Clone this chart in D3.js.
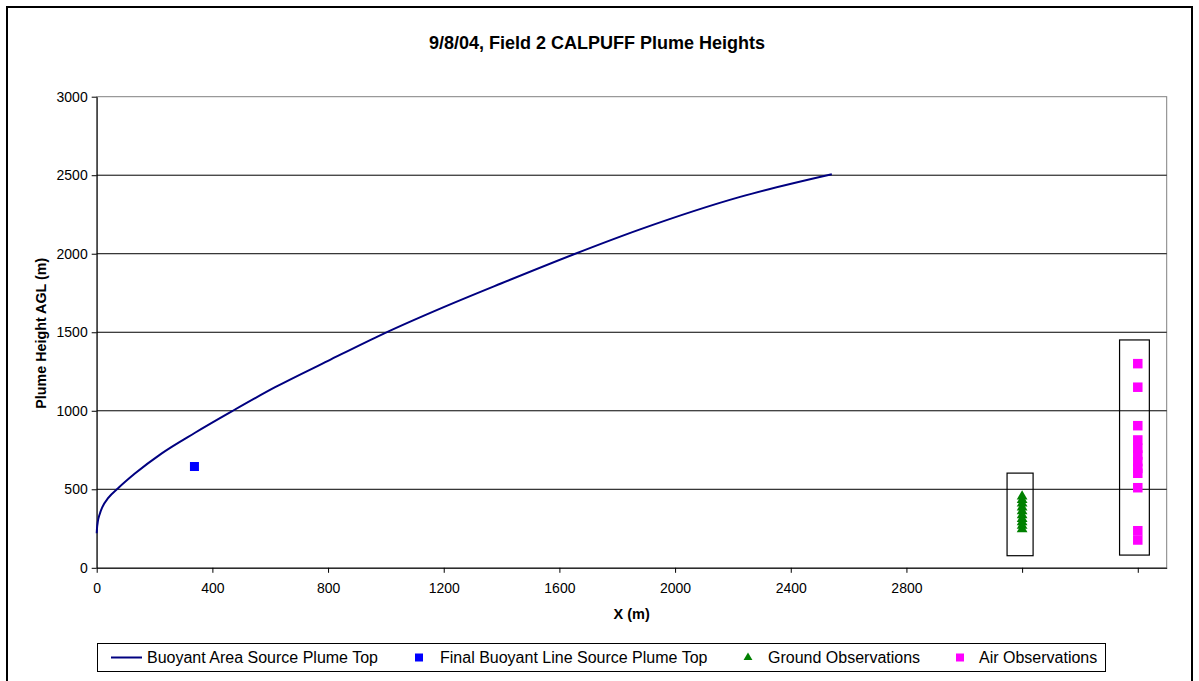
<!DOCTYPE html>
<html>
<head>
<meta charset="utf-8">
<script src="https://cdn.jsdelivr.net/npm/d3@7/dist/d3.min.js"></script>
<style>
  html, body { margin: 0; padding: 0; background: #fff; }
  svg { display: block; font-family: "Liberation Sans", Arial, sans-serif; }
</style>
</head>
<body>
<svg id="chart" width="1199" height="681"></svg>
<script>
// Buoyant area source plume top (downwind distance m, height m)
const areaX = [0, 1, 4, 10, 20, 40, 73, 132, 225, 340, 467, 617, 800, 991, 1200, 1400, 1648, 1879, 2225, 2542];
const areaH = [220, 250, 295, 340, 388, 445, 505, 600, 729, 860, 996, 1150, 1318, 1490, 1660, 1812, 1995, 2155, 2362, 2506];

// Final buoyant line source plume top
const lineX = [338];
const lineH = [645];

// Ground observations
const groundX = [3200, 3200, 3200, 3200, 3200, 3200, 3200, 3200, 3200, 3200];
const groundH = [455, 432, 410, 385, 360, 335, 312, 290, 268, 246];

// Air observations
const airX = [3600, 3600, 3600, 3600, 3600, 3600, 3600, 3600, 3600, 3600, 3600, 3600];
const airH = [1300, 1150, 905, 814, 761, 718, 676, 633, 602, 510, 236, 177];

// Outline boxes around the observation groups: [x0, x1, h0, h1]
const groundBox = [3148, 3238, 77, 603];
const airBox = [3537, 3640, 81, 1451];

// Axis ticks
const xTicks = [0, 400, 800, 1200, 1600, 2000, 2400, 2800, 3200, 3600];
const xTickLabels = ["0", "400", "800", "1200", "1600", "2000", "2400", "2800", "", ""];
const yTicks = [0, 500, 1000, 1500, 2000, 2500, 3000];

const legendLabels = ["Buoyant Area Source Plume Top", "Final Buoyant Line Source Plume Top", "Ground Observations", "Air Observations"];

const svg = d3.select("#chart");
const plot = { left: 96.7, right: 1166.7, top: 96.7, bottom: 567.8 };

const x = d3.scaleLinear().domain([0, 3700]).range([plot.left, plot.right]);
const y = d3.scaleLinear().domain([0, 3000]).range([plot.bottom, plot.top]);

// Chart frame
svg.append("rect").attr("x", 7).attr("y", 7).attr("width", 1185).attr("height", 690)
  .attr("fill", "#fff").attr("stroke", "#000").attr("stroke-width", 2);

// Title
svg.append("text").attr("x", 597).attr("y", 49).attr("text-anchor", "middle")
  .attr("font-size", 18).attr("font-weight", "bold").text("9/8/04, Field 2 CALPUFF Plume Heights");

// Plot area border
svg.append("rect").attr("x", plot.left).attr("y", plot.top)
  .attr("width", plot.right - plot.left).attr("height", plot.bottom - plot.top)
  .attr("fill", "none").attr("stroke", "#808080").attr("stroke-width", 1);

// Horizontal gridlines
svg.append("g").selectAll("line").data(yTicks.filter(d => d > 0 && d < 3000)).join("line")
  .attr("x1", plot.left).attr("x2", plot.right)
  .attr("y1", d => y(d)).attr("y2", d => y(d))
  .attr("stroke", "#000").attr("stroke-width", 1);

// Axes
const xAxis = d3.axisBottom(x).tickValues(xTicks).tickSize(5).tickSizeOuter(0)
  .tickFormat((d, i) => xTickLabels[i]);
const gx = svg.append("g").attr("transform", `translate(0,${plot.bottom})`).call(xAxis);
gx.select(".domain").attr("stroke", "#000");
gx.selectAll(".tick line").attr("stroke", "#000");
gx.selectAll("text").attr("font-size", 14).attr("fill", "#000").attr("font-family", "Liberation Sans, Arial, sans-serif").attr("dy", "1.2em");

const yAxis = d3.axisLeft(y).tickValues(yTicks).tickSize(5).tickSizeOuter(0).tickFormat(d3.format("d"));
const gy = svg.append("g").attr("transform", `translate(${plot.left},0)`).call(yAxis);
gy.select(".domain").attr("stroke", "#000");
gy.selectAll(".tick line").attr("stroke", "#000");
gy.selectAll("text").attr("font-size", 14).attr("fill", "#000").attr("font-family", "Liberation Sans, Arial, sans-serif").attr("x", -9);

// Axis titles
svg.append("text").attr("x", (plot.left + plot.right) / 2).attr("y", 619).attr("text-anchor", "middle")
  .attr("font-size", 14.5).attr("font-weight", "bold").text("X (m)");
svg.append("text").attr("transform", `translate(46,${(plot.top + plot.bottom) / 2 + 1}) rotate(-90)`)
  .attr("text-anchor", "middle").attr("font-size", 14.3).attr("font-weight", "bold").text("Plume Height AGL (m)");

// Observation outline boxes
[groundBox, airBox].forEach(b => {
  svg.append("rect").attr("x", x(b[0])).attr("y", y(b[3]))
    .attr("width", x(b[1]) - x(b[0])).attr("height", y(b[2]) - y(b[3]))
    .attr("fill", "none").attr("stroke", "#000").attr("stroke-width", 1.2);
});

// Area source plume top curve
const areaPts = areaX.map((d, i) => [d, areaH[i]]);
svg.append("path").datum(areaPts)
  .attr("d", d3.line().x(d => x(d[0])).y(d => y(d[1])).curve(d3.curveMonotoneX))
  .attr("fill", "none").attr("stroke", "#000080").attr("stroke-width", 2);

// Line source point
svg.append("g").selectAll("rect").data(lineX.map((d, i) => [d, lineH[i]])).join("rect")
  .attr("x", d => x(d[0]) - 4.5).attr("y", d => y(d[1]) - 4.5)
  .attr("width", 9).attr("height", 9).attr("fill", "#0000FF");

// Ground observations
const tri = d3.symbol().type(d3.symbolTriangle).size(50);
svg.append("g").selectAll("path").data(groundX.map((d, i) => [d, groundH[i]])).join("path")
  .attr("transform", d => `translate(${x(d[0])},${y(d[1])})`)
  .attr("d", tri).attr("fill", "#008000");

// Air observations
svg.append("g").selectAll("rect").data(airX.map((d, i) => [d, airH[i]])).join("rect")
  .attr("x", d => x(d[0]) - 4.75).attr("y", d => y(d[1]) - 4.75)
  .attr("width", 9.5).attr("height", 9.5).attr("fill", "#FF00FF");

// Legend
const lg = svg.append("g");
lg.append("rect").attr("x", 97.5).attr("y", 643.5).attr("width", 1008).attr("height", 28)
  .attr("fill", "#fff").attr("stroke", "#000").attr("stroke-width", 1);
const ly = 657.5;
lg.append("line").attr("x1", 111).attr("x2", 142).attr("y1", ly).attr("y2", ly)
  .attr("stroke", "#000080").attr("stroke-width", 2);
lg.append("rect").attr("x", 415).attr("y", ly - 4).attr("width", 8).attr("height", 8).attr("fill", "#0000FF");
lg.append("path").attr("transform", `translate(748,${ly})`).attr("d", d3.symbol().type(d3.symbolTriangle).size(34)).attr("fill", "#008000");
lg.append("rect").attr("x", 956).attr("y", ly - 4).attr("width", 8).attr("height", 8).attr("fill", "#FF00FF");
const textX = [147, 440, 768, 979];
legendLabels.forEach((t, i) => {
  lg.append("text").attr("x", textX[i]).attr("y", ly + 5.5).attr("font-size", 16).text(t);
});
</script>
</body>
</html>
